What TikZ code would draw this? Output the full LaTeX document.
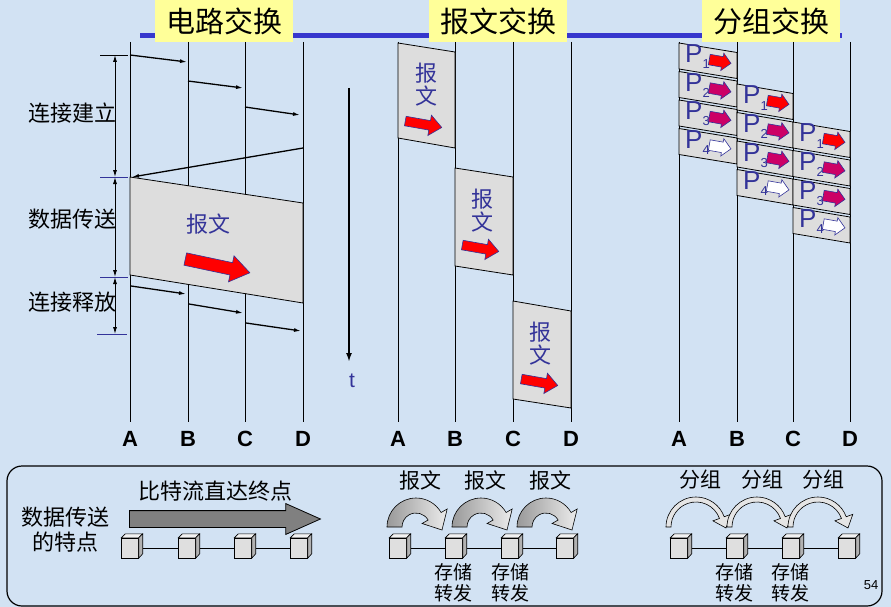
\documentclass[tikz,border=0pt]{standalone}
\usepackage{fontspec}
\setmainfont{Liberation Sans}
\newfontfamily\cjk{Noto Sans CJK SC}
\usetikzlibrary{arrows.meta,shapes.arrows}

\definecolor{paperblue}{RGB}{210,226,243}
\definecolor{titleyellow}{RGB}{255,255,153}
\definecolor{ruleblue}{RGB}{55,55,205}
\definecolor{msggray}{RGB}{221,221,221}
\definecolor{inkblue}{RGB}{51,51,153}
\definecolor{pktred}{RGB}{255,0,0}
\definecolor{pktcrimson}{RGB}{204,0,102}

\newcommand{\pktsub}[1]{\raisebox{-6pt}{\fontsize{13}{13}\selectfont #1}}

\tikzset{
	timeline/.style={line width=1pt},
	station/.style={font=\fontsize{22}{22}\selectfont\bfseries, inner sep=0pt},
	titlebox/.style={fill=titleyellow, minimum width=138pt, minimum height=42pt, inner sep=0pt, font=\cjk\fontsize{29}{29}\selectfont},
	signal/.style={line width=1.3pt, -{Latex[length=7pt,width=4pt]}},
	dimarrow/.style={line width=0.9pt, {Latex[length=7pt,width=4pt]}-{Latex[length=7pt,width=4pt]}},
	phase/.style={font=\cjk\fontsize{22}{22}\selectfont, inner sep=0pt},
	msgblock/.style={fill=msggray, draw=black, line width=0.8pt},
	msgtext/.style={text=inkblue, font=\cjk\fontsize{22}{23}\selectfont, align=center, inner sep=0pt},
	redarrow/.style={single arrow, anchor=tail, fill=pktred, draw=inkblue, line width=0.6pt, inner xsep=0pt},
	pktlabel/.style={text=inkblue, font=\fontsize{26}{26}\selectfont, inner sep=0pt},
	cube/.style={draw, fill=gray!25, minimum width=17pt, minimum height=20pt, inner sep=0pt},
	link/.style={line width=0.8pt, shorten <=4.5pt},
	bottomtext/.style={font=\cjk\fontsize{21}{23}\selectfont, align=center, inner sep=0pt},
	msghop/.pic={
		\path[draw=black, line width=0.6pt, left color=gray!80, right color=gray!15]
			(180:29) arc[start angle=180, end angle=330, radius=29] -- (330:36) -- (26,3)
			-- (330:7) -- (330:14) arc[start angle=330, end angle=180, radius=14] -- cycle;
	},
	pkthop/.pic={
		\path[draw=black, line width=0.6pt, fill=gray!20]
			(180:30) arc[start angle=180, end angle=340, radius=30] -- (340:37) -- (30,1)
			-- (340:18) -- (340:25) arc[start angle=340, end angle=180, radius=25] -- cycle;
	}
}

\begin{document}
\begin{tikzpicture}[x=1pt, y=-1pt]
	% Specify the page and its background:
	\useasboundingbox (0,0) rectangle (891,607);
	\fill[paperblue] (0,0) rectangle (891,607);
	% Draw the title rule and the three titles:
	\draw[ruleblue, line width=5pt] (140,36) -- (842,36);
	\node[titlebox] (h1) at (224,21) {电路交换};
	\node[titlebox] (h2) at (498,21) {报文交换};
	\node[titlebox] (h3) at (771,21) {分组交换};
	% Draw the time lines of the stations:
	\foreach \s/\g/\x in {A/1/130, B/1/188, C/1/245, D/1/303, A/2/398, B/2/455, C/2/513, D/2/571, A/3/679, B/3/737, C/3/793, D/3/850} {
		\coordinate (\s\g t) at (\x,42);
		\coordinate (\s\g b) at (\x,422);
		\draw[timeline] (\s\g t) -- (\s\g b);
		\node[station] (L\s\g) at (\x,439) {\s};
	}
	% Specify the positions of the signals (circuit switching):
	\coordinate (s1a) at (130,55);
	\coordinate (s1b) at (187,62);
	\coordinate (s2a) at (188,81);
	\coordinate (s2b) at (243,88);
	\coordinate (s3a) at (245,107);
	\coordinate (s3b) at (300,115);
	\coordinate (s4a) at (303,148);
	\coordinate (s4b) at (132,177);
	\coordinate (r1a) at (131,286);
	\coordinate (r1b) at (186,294);
	\coordinate (r2a) at (189,304);
	\coordinate (r2b) at (243,313);
	\coordinate (r3a) at (246,323);
	\coordinate (r3b) at (301,331);
	% Draw the connection set-up and release:
	\draw[signal] (s1a) -- (s1b);
	\draw[signal] (s2a) -- (s2b);
	\draw[signal] (s3a) -- (s3b);
	\draw[signal] (s4a) -- (s4b);
	\draw[signal] (r1a) -- (r1b);
	\draw[signal] (r2a) -- (r2b);
	\draw[signal] (r3a) -- (r3b);
	% Draw the message of the circuit:
	\filldraw[msgblock] (130,177) -- (303,203) -- (303,303) -- (130,275) -- cycle;
	\node[msgtext] (cm) at (208,224) {报文};
	\node[redarrow, minimum height=66pt, inner ysep=6pt, single arrow head extend=7pt, single arrow tip angle=70, rotate=-12] (ca) at (185,259) {};
	% Draw the phases at the left:
	\coordinate (d0) at (115,55);
	\coordinate (d1) at (115,177);
	\coordinate (d2) at (115,277);
	\coordinate (d3) at (115,334);
	\draw[line width=0.8pt] ([xshift=-15pt]d0) -- ([xshift=13pt]d0);
	\draw[inkblue, line width=0.8pt] ([xshift=-15pt]d1) -- ([xshift=13pt]d1);
	\draw[inkblue, line width=0.8pt] ([xshift=-15pt]d2) -- ([xshift=13pt]d2);
	\draw[inkblue, line width=0.8pt] ([xshift=-18pt]d3) -- ([xshift=12pt]d3);
	\draw[dimarrow] (d0) -- (d1);
	\draw[dimarrow] (d1) -- (d2);
	\draw[dimarrow] (d2) -- (d3);
	\node[phase] (ph1) at (72,113) {连接建立};
	\node[phase] (ph2) at (72,219) {数据传送};
	\node[phase] (ph3) at (72,302) {连接释放};
	% Draw the time axis:
	\coordinate (t0) at (349,88);
	\coordinate (t1) at (349,362);
	\draw[line width=2pt, -{Latex[length=9pt,width=6pt]}] (t0) -- (t1);
	\node[text=inkblue, font=\fontsize{21}{21}\selectfont, inner sep=0pt] (tl) at (352,381) {t};
	% Draw the messages hopping from station to station:
	\filldraw[msgblock] (398,43) -- (455,52) -- (455,148) -- (398,138) -- cycle;
	\filldraw[msgblock] (455,168) -- (513,177) -- (513,275) -- (455,266) -- cycle;
	\filldraw[msgblock] (513,301) -- (571,311) -- (571,408) -- (513,399) -- cycle;
	\node[msgtext] (m1) at (426,85) {报\\文};
	\node[msgtext] (m2) at (482,211) {报\\文};
	\node[msgtext] (m3) at (540,344) {报\\文};
	\node[redarrow, minimum height=37pt, inner ysep=4.5pt, single arrow head extend=5.5pt, single arrow tip angle=80, rotate=-10] (ma1) at (405,121) {};
	\node[redarrow, minimum height=37pt, inner ysep=4.5pt, single arrow head extend=5.5pt, single arrow tip angle=80, rotate=-10] (ma2) at (462,245) {};
	\node[redarrow, minimum height=37pt, inner ysep=4.5pt, single arrow head extend=5.5pt, single arrow tip angle=80, rotate=-10] (ma3) at (521,379) {};
	% Draw the packets:
	\foreach \L/\R/\T/\k in {679/737/43/1, 737/793/84/2, 793/850/122/3} {
		\foreach \i/\c in {1/pktred, 2/pktcrimson, 3/pktcrimson, 4/white} {
			\pgfmathsetmacro\top{\T+(\i-1)*28.5}
			\filldraw[msgblock] (\L,\top) -- (\R,\top+9.5) -- (\R,\top+35.5) -- (\L,\top+26) -- cycle;
			\node[pktlabel, anchor=base west] (P\k\i) at (\L+6,\top+20) {P\pktsub{\i}};
			\node[redarrow, fill=\c, minimum height=22pt, inner ysep=5pt, single arrow head extend=3.5pt, rotate=-10] (Q\k\i) at (\L+30,\top+16.5) {};
		}
	}
	% Draw the bottom panel:
	\draw[line width=1.2pt, rounded corners=15pt] (7,466) rectangle (882,606);
	\node[bottomtext, font=\cjk\fontsize{22}{25}\selectfont] (feat) at (65,530) {数据传送\\的特点};
	\node[bottomtext, font=\cjk\fontsize{22}{22}\selectfont] (bits) at (215,491) {比特流直达终点};
	\node[single arrow, anchor=tail, draw=black, fill=gray, line width=0.8pt, inner xsep=0pt, inner ysep=8pt, minimum height=191pt, single arrow head extend=7pt, single arrow tip angle=48] (ga) at (129,519) {};
	% Draw the cubes and the links between them:
	\foreach \n/\x in {1/130, 2/187, 3/243, 4/299, 5/398, 6/454, 7/510, 8/565, 9/679, 10/735, 11/791, 12/847} {
		\node[cube] (q\n) at (\x,548) {};
		\filldraw[fill=gray!10, line width=0.6pt] (q\n.north west) -- ++(4,-4) -- ++(17,0) -- (q\n.north east) -- cycle;
		\filldraw[fill=gray!60, line width=0.6pt] (q\n.north east) -- ++(4,-4) -- ++(0,20) -- (q\n.south east) -- cycle;
	}
	\foreach \a/\b in {1/2, 2/3, 3/4, 5/6, 6/7, 7/8, 9/10, 10/11, 11/12} {
		\draw[link] (q\a) -- (q\b);
	}
	% Draw the hops:
	\pic (mh1) at (416,527) {msghop};
	\pic (mh2) at (481,527) {msghop};
	\pic (mh3) at (546,527) {msghop};
	\pic (ph1) at (696,527) {pkthop};
	\pic (ph2) at (757,527) {pkthop};
	\pic (ph3) at (818,527) {pkthop};
	\node[bottomtext] (bm1) at (420,480) {报文};
	\node[bottomtext] (bm2) at (485,480) {报文};
	\node[bottomtext] (bm3) at (550,480) {报文};
	\node[bottomtext] (bp1) at (700,480) {分组};
	\node[bottomtext] (bp2) at (762,480) {分组};
	\node[bottomtext] (bp3) at (823,480) {分组};
	\node[bottomtext, font=\cjk\fontsize{19}{21}\selectfont] (sf1) at (453,583) {存储\\转发};
	\node[bottomtext, font=\cjk\fontsize{19}{21}\selectfont] (sf2) at (510,583) {存储\\转发};
	\node[bottomtext, font=\cjk\fontsize{19}{21}\selectfont] (sf3) at (734,583) {存储\\转发};
	\node[bottomtext, font=\cjk\fontsize{19}{21}\selectfont] (sf4) at (790,583) {存储\\转发};
	\node[font=\fontsize{13}{13}\selectfont\rmfamily, inner sep=0pt] (pg) at (871,585) {54};
\end{tikzpicture}
\end{document}
